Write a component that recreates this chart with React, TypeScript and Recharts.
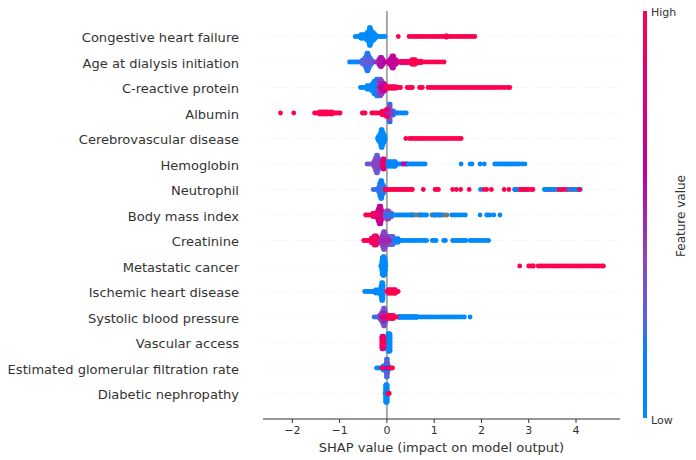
import React from 'react';
import { CartesianGrid, ReferenceLine, Scatter, ScatterChart, XAxis, YAxis } from 'recharts';

// each band: [feature value 0-1 (null = missing), vertical spread in row units, shap values]
type Band = [number | null, number, number[]];

const featureNames = [
  'Congestive heart failure', 'Age at dialysis initiation', 'C-reactive protein', 'Albumin',
  'Cerebrovascular disease', 'Hemoglobin', 'Neutrophil', 'Body mass index', 'Creatinine',
  'Metastatic cancer', 'Ischemic heart disease', 'Systolic blood pressure', 'Vascular access',
  'Estimated glomerular filtration rate', 'Diabetic nephropathy',
];
const xTicks = [-2, -1, 0, 1, 2, 3, 4];

const congestive: Band[] = [
  [0.02, 0, [-0.67, -0.63, -0.59, -0.55, -0.51, -0.47, -0.43, -0.39, -0.35, -0.31, -0.27, -0.23, -0.19, -0.15, -0.11, -0.07, -0.04]],
  [0.02, 0.07, [-0.55, -0.51, -0.47, -0.43, -0.39, -0.35, -0.31, -0.27, -0.24]],
  [0.02, 0.15, [-0.42, -0.39, -0.35, -0.31, -0.28]],
  [0.02, 0.25, [-0.38, -0.35, -0.33]],
  [0.02, 0.35, [-0.37, -0.35]],
  [1, 0, [0.24, 0.47, 0.52, 0.57, 0.62, 0.67, 0.72, 0.77, 0.82, 0.87, 0.92, 0.97, 1.02, 1.07, 1.12, 1.17, 1.22, 1.27, 1.32, 1.37, 1.42, 1.47, 1.52, 1.57, 1.62, 1.67, 1.72, 1.77, 1.82, 1.86]],
  [1, 0.03, [1.26]],
];
const age: Band[] = [
  [0.02, 0, [-0.79, -0.75, -0.71, -0.67, -0.63]],
  [0.18, 0, [-0.6, -0.56, -0.52, -0.48]],
  [0.14, 0.35, [-0.42, -0.4]],
  [0.2, 0.25, [-0.44, -0.41, -0.38]],
  [0.2, 0.15, [-0.47, -0.43, -0.39, -0.35]],
  [0.24, 0.07, [-0.52, -0.48, -0.44, -0.4, -0.36, -0.32]],
  [0.3, 0, [-0.44, -0.4, -0.36, -0.32, -0.28]],
  [0.45, 0, [-0.24, -0.2, -0.16, -0.12, -0.08]],
  [0.55, 0.1, [-0.17, -0.14, -0.11, -0.08]],
  [0.55, 0.18, [-0.14, -0.11]],
  [0.62, 0, [-0.04, 0, 0.04, 0.08]],
  [0.64, 0.08, [0.05, 0.09, 0.13, 0.17, 0.2]],
  [0.64, 0.16, [0.09, 0.12, 0.15]],
  [0.64, 0.24, [0.11, 0.14]],
  [0.68, 0, [0.12, 0.16, 0.2, 0.24, 0.28]],
  [0.82, 0, [0.32, 0.36, 0.4, 0.44, 0.48]],
  [0.9, 0.03, [0.3, 0.36, 0.42, 0.48, 0.54, 0.6, 0.66, 0.72]],
  [1, 0.09, [0.53, 0.56, 0.6]],
  [1, 0, [0.52, 0.57, 0.62, 0.67, 0.72, 0.77, 0.82, 0.87, 0.92, 0.97, 1.02, 1.07, 1.12, 1.17, 1.21]],
];
const crp: Band[] = [
  [0.02, 0, [-0.56, -0.52, -0.48, -0.44, -0.4, -0.36, -0.32, -0.28, -0.24, -0.2, -0.16]],
  [0.02, 0.07, [-0.42, -0.38, -0.34, -0.3, -0.26, -0.22, -0.18]],
  [0.02, 0.15, [-0.31, -0.27, -0.23, -0.19]],
  [0.06, 0.25, [-0.27, -0.24, -0.2, -0.17]],
  [0.1, 0.33, [-0.22, -0.19]],
  [0.3, 0.33, [-0.16, -0.13]],
  [0.4, 0.25, [-0.17, -0.13, -0.1]],
  [0.55, 0.15, [-0.16, -0.12, -0.08, -0.05]],
  [0.3, 0.1, [-0.19, -0.15, -0.12]],
  [0.65, 0.07, [-0.13, -0.09, -0.05, -0.02]],
  [0.7, 0, [-0.15, -0.11, -0.07, -0.03]],
  [0.85, 0.03, [-0.01, 0.03, 0.07, 0.11, 0.15, 0.19]],
  [1, 0, [0, 0.05, 0.1, 0.15, 0.2, 0.25, 0.29, 0.43, 0.47, 0.51, 0.54, 0.69, 0.72, 0.75]],
  [1, 0, [0.87, 0.92, 0.97, 1.02, 1.07, 1.12, 1.17, 1.22, 1.27, 1.32, 1.37, 1.42, 1.47, 1.52, 1.57, 1.62, 1.67, 1.72, 1.77, 1.82, 1.87, 1.92, 1.97, 2.02, 2.07, 2.12, 2.17, 2.22, 2.27, 2.32, 2.38, 2.44, 2.5, 2.56, 2.6]],
];
const albumin: Band[] = [
  [1, 0, [-2.25, -1.97, -1.53, -1.49, -1.45, -1.41, -1.37, -1.33, -1.29, -1.25, -1.21, -1.17, -1.13, -1.09, -1.05, -1.01, -0.99]],
  [1, 0.04, [-1.42, -1.38, -1.34, -1.3, -1.26, -1.2, -1.16]],
  [1, 0, [-0.52, -0.49, -0.46, -0.32, -0.28, -0.24, -0.2, -0.16, -0.12, -0.08, -0.04, 0]],
  [1, 0.07, [-0.1, -0.07, -0.04, -0.01]],
  [0.05, 0, [0.22, 0.26, 0.3, 0.34, 0.38, 0.41]],
  [0.15, 0, [0.12, 0.16, 0.2]],
  [0.2, 0.08, [0.06, 0.1, 0.14]],
  [0.3, 0.18, [0.04, 0.07]],
  [0.15, 0.35, [0.05, 0.07]],
  [0.35, 0.27, [0.05, 0.07]],
  [0.45, 0, [0.02, 0.05, 0.08, 0.11]],
  [0.85, 0.14, [-0.01, 0.02]],
];
const cerebro: Band[] = [
  [0.02, 0, [-0.2, -0.16, -0.12, -0.08, -0.04]],
  [0.02, 0.08, [-0.18, -0.14, -0.1, -0.06, -0.04]],
  [0.02, 0.16, [-0.15, -0.12, -0.08, -0.06]],
  [0.02, 0.26, [-0.13, -0.11, -0.09]],
  [0.02, 0.35, [-0.12, -0.1]],
  [1, 0, [0.4, 0.48, 0.53, 0.58, 0.63, 0.68, 0.73, 0.78, 0.83, 0.88, 0.93, 0.98, 1.03, 1.08, 1.13, 1.18, 1.23, 1.28, 1.33, 1.38, 1.43, 1.48, 1.53, 1.57]],
];
const hemoglobin: Band[] = [
  [0.32, 0, [-0.42, -0.38, -0.34, -0.3, -0.26]],
  [0.28, 0.35, [-0.22, -0.2]],
  [0.3, 0.25, [-0.24, -0.21, -0.18]],
  [0.34, 0.15, [-0.26, -0.23, -0.19, -0.16]],
  [0.38, 0.07, [-0.28, -0.24, -0.2, -0.16, -0.13]],
  [0.4, 0, [-0.26, -0.22, -0.18, -0.14]],
  [0.75, 0.2, [-0.08, -0.06]],
  [0.8, 0.1, [-0.1, -0.07, -0.04]],
  [0.9, 0, [-0.1, -0.06, -0.02]],
  [0.1, 0, [0.02, 0.06, 0.1, 0.14, 0.18, 0.22, 0.26, 0.3, 0.34, 0.38, 0.42]],
  [0.08, 0.09, [0.03, 0.07, 0.11, 0.15, 0.18]],
  [0.65, 0, [0.35, 0.42]],
  [0.03, 0, [0.45, 0.49, 0.53, 0.57, 0.61, 0.65, 0.69, 0.73, 0.77, 0.81, 1.57, 1.76, 1.8, 1.97, 2.06]],
  [0.03, 0, [2.28, 2.32, 2.36, 2.4, 2.44, 2.48, 2.52, 2.56, 2.6, 2.64, 2.68, 2.72, 2.76, 2.8, 2.86, 2.92]],
];
const neutrophil: Band[] = [
  [0.22, 0, [-0.29, -0.25, -0.21, -0.17, -0.15]],
  [0.1, 0.35, [-0.13, -0.11]],
  [0.15, 0.25, [-0.15, -0.12, -0.1]],
  [0.18, 0.15, [-0.16, -0.13, -0.1, -0.07]],
  [0.2, 0.07, [-0.18, -0.15, -0.12, -0.08, -0.05]],
  [1, 0, [-0.04, 0, 0.04, 0.08, 0.12, 0.16, 0.2, 0.24, 0.28, 0.32, 0.36, 0.4, 0.44, 0.48, 0.51, 0.54]],
  [1, 0, [0.77, 1.02, 1.06, 1.09, 1.39, 1.47, 1.56, 1.74]],
  [0.03, 0, [1.98]],
  [1, 0, [2.05, 2.11, 2.21, 2.48, 2.58, 2.71, 2.75, 2.8, 2.85]],
  [0.05, 0, [2.7, 2.74, 2.87, 2.92, 2.96]],
  [1, 0, [2.84, 2.89, 2.95, 3, 3.05, 3.09, 3.38, 3.45, 3.52]],
  [0.05, 0, [3.33, 3.36, 3.41, 3.48, 3.56, 3.6, 3.68, 3.72]],
  [1, 0, [3.64, 3.7, 3.77, 3.82, 3.9, 4.05]],
  [0.05, 0, [3.85, 3.95, 3.99, 4.03, 4.09]],
  [1, 0, [4.07]],
];
const bmi: Band[] = [
  [1, 0, [-0.45, -0.41, -0.37, -0.33, -0.29, -0.25]],
  [0.9, 0.06, [-0.3, -0.27, -0.23, -0.19, -0.16]],
  [0.62, 0.35, [-0.16, -0.13]],
  [0.68, 0.25, [-0.18, -0.15, -0.12]],
  [0.75, 0.15, [-0.2, -0.17, -0.13, -0.1]],
  [0.85, 0, [-0.23, -0.19, -0.15, -0.11, -0.07]],
  [0.4, 0.16, [-0.01, 0.01, 0.04]],
  [0.3, 0.07, [-0.04, 0, 0.03, 0.07, 0.1]],
  [0.2, 0, [-0.03, 0.01, 0.05, 0.09, 0.13]],
  [0.05, 0, [0.15, 0.19, 0.23, 0.27, 0.31, 0.35, 0.39, 0.43, 0.47]],
  [null, 0, [0.52, 0.56, 0.6, 0.64, 0.68, 0.95, 0.99, 1.03, 1.07, 1.11, 1.15, 1.19, 1.23, 1.27]],
  [0.03, 0, [0.5, 0.54, 0.7, 0.73, 0.76, 0.8, 0.84, 0.98, 1.02, 1.1, 1.14, 1.37, 1.42, 1.46, 1.52, 1.56, 1.62, 1.66, 1.97, 2.11, 2.14, 2.18, 2.26, 2.39]],
];
const creatinine: Band[] = [
  [0.03, 0, [0.1, 0.15, 0.2, 0.25, 0.3, 0.35, 0.4, 0.45, 0.5, 0.55, 0.6, 0.65, 0.7, 0.75, 0.8, 0.84, 0.96, 1, 1.04, 1.2, 1.24, 1.39, 1.43, 1.47, 1.51, 1.55, 1.59, 1.63, 1.67, 1.76, 1.8, 1.85, 1.9, 1.95, 2, 2.05, 2.1, 2.15]],
  [0.1, 0.07, [0.08, 0.12, 0.16, 0.2, 0.24]],
  [0.25, 0.16, [0.03, 0.06, 0.1, 0.13]],
  [1, 0, [-0.49, -0.45, -0.41, -0.37, -0.33, -0.29, -0.25, -0.21, -0.18]],
  [0.95, 0.09, [-0.33, -0.3, -0.26, -0.22, -0.19]],
  [0.9, 0.18, [-0.27, -0.25, -0.22]],
  [0.35, 0.35, [-0.07, -0.05]],
  [0.38, 0.25, [-0.09, -0.06, -0.03]],
  [0.42, 0.15, [-0.11, -0.08, -0.05, -0.01]],
  [0.45, 0.07, [-0.12, -0.09, -0.05, -0.02, 0.01]],
  [0.5, 0, [-0.14, -0.1, -0.06, -0.02, 0.02, 0.06]],
];
const metastatic: Band[] = [
  [0.02, 0, [-0.13, -0.1, -0.07, -0.04, -0.02]],
  [0.02, 0.08, [-0.11, -0.08, -0.05, -0.03]],
  [0.02, 0.16, [-0.11, -0.08, -0.05, -0.03]],
  [0.02, 0.24, [-0.1, -0.07, -0.04]],
  [0.02, 0.32, [-0.1, -0.06, -0.04]],
  [0.02, 0.37, [-0.08, -0.06]],
  [1, 0, [2.81, 3, 3.04, 3.08, 3.1, 3.2, 3.25, 3.3, 3.35, 3.4, 3.45, 3.5, 3.55, 3.6, 3.65, 3.7, 3.75, 3.8, 3.85, 3.9, 3.95, 4, 4.05, 4.1, 4.15, 4.2, 4.25, 4.3, 4.35, 4.4, 4.45, 4.5, 4.55, 4.58]],
];
const ischemic: Band[] = [
  [0.02, 0, [-0.47, -0.43, -0.39, -0.35, -0.31, -0.27, -0.23, -0.19, -0.15, -0.11, -0.07]],
  [0.02, 0.06, [-0.24, -0.2, -0.16, -0.12, -0.09]],
  [0.02, 0.15, [-0.13, -0.1, -0.08]],
  [0.02, 0.25, [-0.12, -0.1, -0.08]],
  [0.02, 0.35, [-0.11, -0.09]],
  [1, 0, [0, 0.04, 0.08, 0.12, 0.16, 0.2, 0.24]],
  [1, 0.07, [0.03, 0.07, 0.11, 0.15, 0.18]],
];
const systolic: Band[] = [
  [0.2, 0, [-0.27, -0.23, -0.19, -0.15, -0.11]],
  [0.3, 0.35, [-0.07, -0.05]],
  [0.35, 0.25, [-0.09, -0.06, -0.04]],
  [0.2, 0.15, [-0.12, -0.08, -0.05, -0.02]],
  [0.7, 0.15, [-0.07]],
  [0.45, 0.07, [-0.15, -0.11, -0.08, -0.04, -0.01]],
  [0.75, 0, [-0.1, -0.06, -0.02]],
  [0.03, 0, [0.24, 0.29, 0.34, 0.39, 0.44, 0.49, 0.54, 0.59, 0.64, 0.69, 0.74, 0.79, 0.84, 0.89, 0.94, 0.99, 1.04, 1.09, 1.14, 1.19, 1.24, 1.29, 1.34, 1.39, 1.44, 1.49, 1.54, 1.59, 1.64, 1.76]],
  [0.03, 0.02, [0.26, 0.32, 0.38, 0.44, 0.5, 0.56, 0.62]],
  [1, 0, [0, 0.04, 0.08, 0.12, 0.16, 0.2]],
  [1, 0.06, [0.03, 0.07, 0.11, 0.14]],
];
const vascular: Band[] = [
  [0.02, 0, [0.02, 0.05, 0.07]],
  [0.02, 0.1, [0.02, 0.05, 0.07]],
  [0.02, 0.2, [0.02, 0.05, 0.07]],
  [0.02, 0.3, [0.03, 0.05, 0.07]],
  [0.02, 0.35, [0.03, 0.06]],
  [1, 0, [-0.11, -0.08, -0.06]],
  [1, 0.1, [-0.11, -0.08, -0.06]],
  [1, 0.2, [-0.11, -0.08, -0.06]],
  [0.8, 0.25, [-0.1, -0.07]],
];
const egfr: Band[] = [
  [0.02, 0, [-0.22, -0.18, -0.14, -0.1, -0.07, 0.05, 0.07]],
  [0.2, 0.35, [-0.01, 0.01]],
  [0.3, 0.25, [-0.01, 0.01]],
  [0.35, 0.16, [-0.02, 0, 0.02]],
  [0.08, 0.08, [-0.08, -0.05, -0.02, 0.03]],
  [0.6, 0, [-0.04, 0, 0.04]],
  [1, 0, [-0.11, 0.07, 0.1, 0.12]],
];
const diabetic: Band[] = [
  [0.02, 0, [-0.04, -0.02, 0, 0.02]],
  [0.02, 0.1, [-0.03, -0.01, 0.01]],
  [0.02, 0.2, [-0.03, -0.01, 0.01]],
  [0.02, 0.3, [-0.03, -0.01, 0.01]],
  [0.02, 0.35, [-0.02, 0]],
  [1, 0, [0.02, 0.04, 0.05]],
];

const rows = [congestive, age, crp, albumin, cerebro, hemoglobin, neutrophil, bmi, creatinine, metastatic, ischemic, systolic, vascular, egfr, diabetic];

const stops: [number, number[]][] = [
  [0, [0, 139, 251]], [0.16, [10, 128, 250]], [0.25, [90, 99, 223]],
  [0.4, [139, 69, 189]], [0.6, [189, 0, 164]], [1, [255, 0, 81]],
];

const featureColor = (t: number | null) => {
  if (t === null) return '#777777';
  for (let i = 1; i < stops.length; i++) {
    if (t <= stops[i][0]) {
      const [t0, c0] = stops[i - 1];
      const [t1, c1] = stops[i];
      const k = (t - t0) / (t1 - t0);
      return `rgb(${c0.map((c, j) => Math.round(c + (c1[j] - c) * k)).join(',')})`;
    }
  }
  return '#ff0051';
};

const rowPoints = (bands: Band[], level: number) =>
  bands.flatMap(([feature, spread, values]) =>
    values.flatMap((shap) =>
      spread === 0
        ? [{ shap, y: level, feature }]
        : [{ shap, y: level + spread, feature }, { shap, y: level - spread, feature }]
    )
  );

const Dot = (props: any) => (
  <circle cx={props.cx} cy={props.cy} r={2.4} fill={featureColor(props.payload.feature)} />
);

const textColor = '#333333';
const font = '"DejaVu Sans", sans-serif';

const App = () => {
  const levels = featureNames.map((_, i) => featureNames.length - 1 - i);

  return (
    <div style={{ position: 'absolute', left: 0, top: 0, width: 696, height: 460, fontFamily: font }}>
      <ScatterChart width={696} height={460} margin={{ top: 11, right: 76, bottom: 0, left: 0 }}>
        <CartesianGrid vertical={false} horizontalValues={levels} stroke="#dddddd" strokeWidth={0.5} strokeDasharray="1 2" />
        <ReferenceLine x={0} stroke="#a8a8a8" strokeWidth={2} />
        <XAxis
          type="number"
          dataKey="shap"
          domain={[-2.62, 4.93]}
          ticks={xTicks}
          allowDataOverflow
          height={41}
          stroke={textColor}
          tickSize={4}
          tick={{ fontSize: 11, fill: textColor, fontFamily: font }}
          tickMargin={3}
          tickFormatter={(v: number) => String(v).replace('-', '\u2212')}
          label={{ value: 'SHAP value (impact on model output)', position: 'insideBottom', offset: 8, fontSize: 13, fill: textColor, fontFamily: font }}
        />
        <YAxis
          type="number"
          dataKey="y"
          domain={[-1, 15]}
          ticks={levels}
          interval={0}
          allowDataOverflow
          width={263}
          axisLine={false}
          tickLine={false}
          tickMargin={18}
          tick={{ fontSize: 13.05, fill: textColor, fontFamily: font, dy: 1 }}
          tickFormatter={(v: number) => featureNames[featureNames.length - 1 - v]}
        />
        {rows.map((bands, i) => (
          <Scatter key={featureNames[i]} data={rowPoints(bands, levels[i])} shape={Dot} isAnimationActive={false} />
        ))}
      </ScatterChart>
      <div
        style={{
          position: 'absolute', left: 643, top: 11, width: 4, height: 407,
          background: 'linear-gradient(to top, #008bfb 0%, #0a80fa 16%, #5a63df 25%, #8b45bd 40%, #bd00a4 60%, #ff0051 100%)',
        }}
      />
      <div style={{ position: 'absolute', left: 651, top: 6, fontSize: 11, color: textColor }}>High</div>
      <div style={{ position: 'absolute', left: 651, top: 414, fontSize: 11, color: textColor }}>Low</div>
      <div
        style={{
          position: 'absolute', left: 681, top: 216, fontSize: 12, color: textColor, whiteSpace: 'nowrap',
          transform: 'translate(-50%, -50%) rotate(-90deg)',
        }}
      >
        Feature value
      </div>
    </div>
  );
};

export default App;
